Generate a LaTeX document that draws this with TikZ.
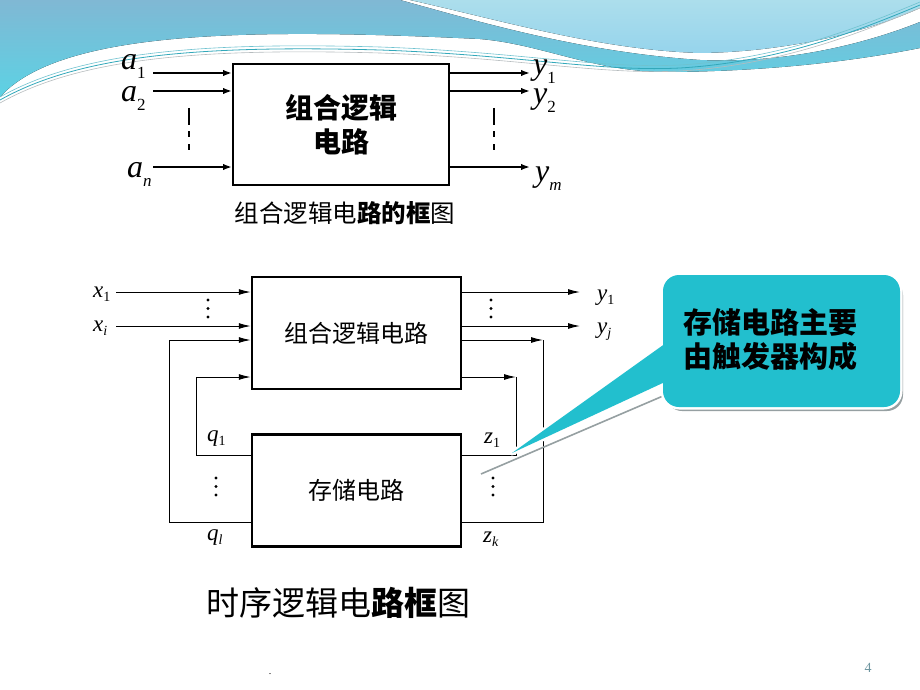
\documentclass[tikz,border=0pt]{standalone}
\usepackage{fontspec}
\setmainfont{Liberation Serif}
\newfontfamily\cjk{Noto Sans CJK SC}
\usetikzlibrary{arrows.meta,calc}
\definecolor{wavetop}{RGB}{128,184,212}
\definecolor{wavebot}{RGB}{92,210,228}
\definecolor{wavelight}{RGB}{172,222,236}
\definecolor{wavelight2}{RGB}{150,212,236}
\definecolor{waveline}{RGB}{50,168,186}
\definecolor{callcyan}{RGB}{34,191,206}
\definecolor{shadowgray}{RGB}{150,160,162}
\definecolor{pagenum}{RGB}{110,150,160}
\newcommand\biglab[2]{{\fontsize{32}{32}\selectfont\itshape #1}\raisebox{-9pt}{\fontsize{17}{17}\selectfont #2}}
\newcommand\smlab[2]{{\fontsize{23}{23}\selectfont\itshape #1}\raisebox{-4pt}{\fontsize{14}{14}\selectfont #2}}
\begin{document}
\begin{tikzpicture}[x=1pt,y=-1pt,
  toparrow/.style={line width=1.8pt,-{Latex[length=9pt,width=6.5pt]}},
  seqarrow/.style={line width=1pt,-{Latex[length=12pt,width=6pt]}},
  wire/.style={line width=1pt},
  topbox/.style={draw,line width=2pt,minimum width=216pt,minimum height=121pt,inner sep=0pt,align=center},
  seqbox/.style={draw,line width=2.5pt,minimum width=209pt,minimum height=112pt,inner sep=0pt},
  lbl/.style={anchor=base west,inner sep=0pt},
  vdot/.style={fill,circle,inner sep=0pt,minimum size=3.4pt},
  vdash/.style={line width=2.6pt},
]
\useasboundingbox (0,0) rectangle (920,690);
% background waves
\fill[top color=wavetop,bottom color=wavebot]
  (0,0) -- (400,0) .. controls (480,22) and (580,52) .. (700,60)
  .. controls (790,64) and (870,42) .. (920,22) -- (920,48)
  .. controls (850,62) and (760,72) .. (660,72)
  .. controls (590,70) and (540,44) .. (480,39)
  .. controls (250,28) and (60,30) .. (0,97) -- cycle;
\fill[top color=wavelight,bottom color=wavelight2]
  (410,0) -- (920,0) -- (920,8) .. controls (860,35) and (780,52) .. (700,53)
  .. controls (600,50) and (500,20) .. (410,0) -- cycle;
\draw[waveline,line width=0.8pt] (0,100) .. controls (80,55) and (200,45) .. (380,50)
  .. controls (520,55) and (600,72) .. (680,68) .. controls (780,62) and (860,30) .. (920,5);
\draw[waveline!70,line width=0.6pt] (0,97) .. controls (80,52) and (200,42) .. (380,47)
  .. controls (520,52) and (600,69) .. (680,65) .. controls (780,59) and (860,27) .. (920,2);
\draw[shadowgray!70,line width=0.6pt] (0,103) .. controls (80,58) and (200,48) .. (380,53)
  .. controls (520,58) and (600,75) .. (680,71) .. controls (780,65) and (860,33) .. (920,8);

% ===== top diagram =====
\node[topbox,font={\cjk\bfseries\fontsize{28}{34}\selectfont}] (comb0) at (341,124.5) {组合逻辑\\电路};
\coordinate (a1s) at (153,73);
\coordinate (a2s) at (153,91);
\coordinate (ans) at (153,167);
\coordinate (y1e) at (530,73);
\coordinate (y2e) at (530,91);
\coordinate (yme) at (530,167);
\draw[toparrow] (a1s) -- (comb0.west |- a1s);
\draw[toparrow] (a2s) -- (comb0.west |- a2s);
\draw[toparrow] (ans) -- (comb0.west |- ans);
\draw[toparrow] (comb0.east |- y1e) -- (y1e);
\draw[toparrow] (comb0.east |- y2e) -- (y2e);
\draw[toparrow] (comb0.east |- yme) -- (yme);
\node[lbl] (la1) at (121,70) {\biglab{a}{1}};
\node[lbl] (la2) at (121,102) {\biglab{a}{2}};
\node[lbl] (lan) at (127,177) {\biglab{a}{\textit{n}}};
\node[lbl] (ly1) at (533,75) {\biglab{y}{1}};
\node[lbl] (ly2) at (533,104) {\biglab{y}{2}};
\node[lbl] (lym) at (535,181) {\biglab{y}{\textit{m}}};
\foreach \xx in {189,494}{
  \draw[vdash] (\xx,108) -- (\xx,125);
  \draw[vdash] (\xx,131) -- (\xx,137);
  \draw[vdash] (\xx,144) -- (\xx,150);
}
\node[font={\cjk\fontsize{24.5}{24.5}\selectfont}] (cap0) at (345,213) {组合逻辑电{\bfseries 路的框}图};

% ===== sequential diagram =====
\node[seqbox,font={\cjk\fontsize{24}{24}\selectfont}] (comb) at (356.5,333) {组合逻辑电路};
\node[seqbox,font={\cjk\fontsize{24}{24}\selectfont}] (mem) at (356.5,490.5) {存储电路};
\coordinate (x1s) at (116,292);
\coordinate (xis) at (116,326);
\coordinate (y1o) at (580,292);
\coordinate (yjo) at (580,326);
\draw[seqarrow] (x1s) -- (comb.west |- x1s);
\draw[seqarrow] (xis) -- (comb.west |- xis);
\draw[seqarrow] (comb.east |- y1o) -- (y1o);
\draw[seqarrow] (comb.east |- yjo) -- (yjo);
% feedback
\coordinate (L1) at (169,340);
\coordinate (L2) at (169,522);
\coordinate (L3) at (196,377);
\coordinate (L4) at (196,455);
\coordinate (R1) at (543,340);
\coordinate (R2) at (543,522);
\coordinate (R3) at (516,377);
\coordinate (R4) at (516,455);
\draw[seqarrow] (mem.west |- L2) -- (L2) -- (L1) -- (comb.west |- L1);
\draw[seqarrow] (mem.west |- L4) -- (L4) -- (L3) -- (comb.west |- L3);
\draw[seqarrow] (comb.east |- R1) -- (R1);
\draw[seqarrow] (comb.east |- R3) -- (R3);
\draw[wire] (R1) -- (R2) -- (mem.east |- R2);
\draw[wire] (R3) -- (R4) -- (mem.east |- R4);
\node[lbl] (lx1) at (93,297) {\smlab{x}{1}};
\node[lbl] (lxi) at (93,331) {\smlab{x}{\textit{i}}};
\node[lbl] (ly1b) at (597,300) {\smlab{y}{1}};
\node[lbl] (lyj) at (597,333) {\smlab{y}{\textit{j}}};
\node[lbl] (lq1) at (207,441) {\smlab{q}{1}};
\node[lbl] (lql) at (207,540) {\smlab{q}{\textit{l}}};
\node[lbl] (lz1) at (484,443) {\smlab{z}{1}};
\node[lbl] (lzk) at (483,542) {\smlab{z}{\textit{k}}};
\foreach \xx/\yy/\nm in {208/300/a,491/300/b,216/478/c,493/478/d}{
  \node[vdot] (dot\nm1) at (\xx,\yy) {};
  \node[vdot] (dot\nm2) at (\xx,\yy+8.5) {};
  \node[vdot] (dot\nm3) at (\xx,\yy+17) {};
}
\node[font={\cjk\fontsize{33}{33}\selectfont}] (title) at (338,603) {时序逻辑电{\bfseries 路框}图};

% ===== callout =====
\fill[shadowgray,rounded corners=16pt] (666,279) rectangle (903,411);
\draw[shadowgray,line width=1.6pt] (663,396) -- (481,474);
\draw[white,line width=5pt,rounded corners=16pt] (663,275) rectangle (900,407);
\draw[white,line width=5pt,line join=round] (680,333) -- (512,453) -- (680,375) -- cycle;
\fill[callcyan] (680,333) -- (512,453) -- (680,375) -- cycle;
\fill[callcyan,rounded corners=16pt] (663,275) rectangle (900,407);
\node[align=center,font={\cjk\bfseries\fontsize{29}{34}\selectfont}] (calltxt) at (770,340) {存储电路主要\\由触发器构成};

% footer
\node (dotmark) at (270,674) {\fontsize{10}{10}\selectfont .};
\node[text=pagenum] (pnum) at (868,668) {\fontsize{14}{14}\selectfont 4};
\end{tikzpicture}
\end{document}
